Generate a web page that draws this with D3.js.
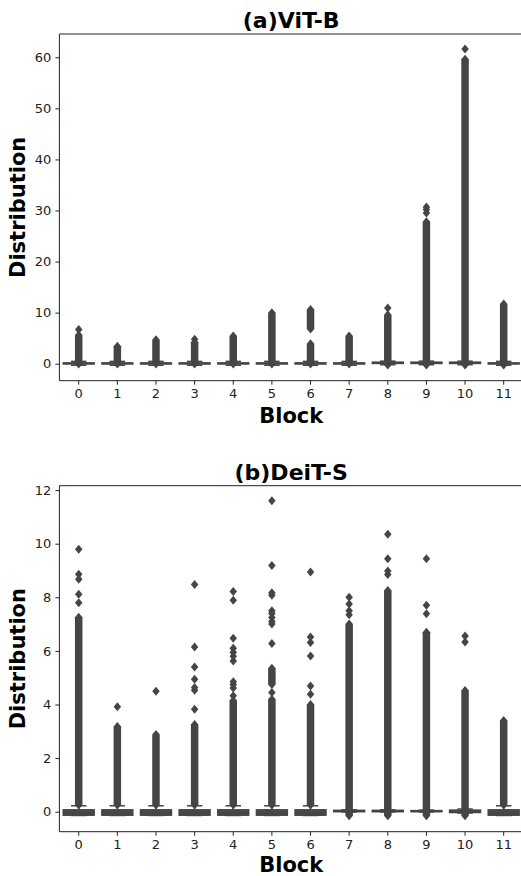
<!DOCTYPE html>
<html><head><meta charset="utf-8">
<script src="https://cdn.jsdelivr.net/npm/d3@7"></script>
<style>body{margin:0;background:#fff} text{font-family:"DejaVu Sans",sans-serif}</style>
</head><body><svg id="c" width="521" height="876"></svg>
<script>
// ---------- data ----------
const blocks = ["0","1","2","3","4","5","6","7","8","9","10","11"];

// (a) ViT-B
const vitYTicks = [0,10,20,30,40,50,60];
const vitQ1       = [-0.05,-0.05,-0.05,-0.05,-0.05,-0.05,-0.05,-0.05,0.05,0.05,0.05,-0.05];
const vitMedian   = [0.05,0.05,0.05,0.05,0.05,0.05,0.05,0.05,0.15,0.15,0.15,0.05];
const vitQ3       = [0.15,0.15,0.15,0.15,0.15,0.15,0.15,0.15,0.3,0.3,0.3,0.15];
const vitWhiskLo  = [-0.3,-0.3,-0.3,-0.3,-0.3,-0.3,-0.3,-0.3,-0.2,-0.2,-0.2,-0.3];
const vitWhiskHi  = [0.45,0.45,0.45,0.45,0.45,0.45,0.45,0.45,0.5,0.5,0.5,0.45];
// dense outlier runs [low, high] per block
const vitRuns = [
  [[-0.05,5.6]], [[-0.05,3.4]], [[-0.05,4.7]], [[-0.05,4.2]], [[-0.05,5.4]], [[-0.05,10.0]],
  [[-0.05,3.9],[6.8,10.6]], [[-0.05,5.4]], [[-0.25,9.6]], [[-0.25,27.8]], [[-0.25,59.6]], [[-0.25,11.7]]
];
// isolated outliers per block
const vitPoints = [
  [6.7], [], [], [4.8], [], [], [], [], [10.9], [29.5,30.2,30.7], [61.6], []
];

// (b) DeiT-S
const deitYTicks = [0,2,4,6,8,10,12];
const deitQ1      = [-0.13,-0.13,-0.13,-0.13,-0.13,-0.13,-0.13,0.0,0.0,0.0,-0.03,-0.13];
const deitMedian  = [-0.05,-0.05,-0.05,-0.05,-0.05,-0.05,-0.05,0.02,0.02,0.02,0.01,-0.05];
const deitQ3      = [0.07,0.07,0.07,0.07,0.07,0.07,0.07,0.05,0.05,0.04,0.06,0.07];
const deitWhiskLo = [-0.14,-0.14,-0.14,-0.14,-0.14,-0.14,-0.14,-0.01,-0.01,-0.01,-0.05,-0.14];
const deitWhiskHi = [0.22,0.22,0.22,0.22,0.22,0.22,0.22,0.07,0.07,0.06,0.1,0.22];
const deitRuns = [
  [[0.25,7.26]], [[0.25,3.18]], [[0.25,2.88]], [[0.25,3.25]], [[0.25,4.15]], [[0.25,4.2],[4.75,5.35]],
  [[0.25,4.0]], [[-0.15,7.0]], [[-0.15,8.25]], [[-0.15,6.7]], [[-0.15,4.52]], [[0.25,3.4]]
];
const deitPoints = [
  [9.79,8.86,8.67,8.11,7.80],
  [3.92],
  [4.49],
  [8.48,6.15,5.40,4.94,4.63,4.53,3.82],
  [8.22,7.89,6.47,6.1,5.95,5.8,5.62,4.85,4.75,4.62,4.33],
  [11.6,9.19,8.17,8.08,7.5,7.4,7.25,7.1,7.0,6.28,4.45],
  [8.94,6.52,6.31,5.81,4.69,4.38],
  [8.0,7.75,7.5,7.35],
  [10.35,9.44,8.98,8.85],
  [9.44,7.70,7.39],
  [6.56,6.33],
  []
];

// ---------- drawing ----------
const svg = d3.select("#c");
const GRAY = "#454545";
const MW = 7.5, MH = 9;

function panel(cfg){
  const {top, bottom, yDomain, yTicks, q1, med, q3, wlo, whi, runs, points, title, labelY} = cfg;
  const left = 59.4, right = 523;
  const x = d3.scaleBand().domain(blocks).range([left, right]).paddingInner(0.2).paddingOuter(0.1);
  const y = d3.scaleLinear().domain(yDomain).range([bottom, top]);
  const g = svg.append("g");
  const bw = x.bandwidth();

  blocks.forEach((b, i) => {
    const cx = x(b) + bw / 2;
    const bg = g.append("g");
    bg.append("line").attr("x1", cx).attr("x2", cx).attr("y1", y(q3[i])).attr("y2", y(whi[i]))
      .attr("stroke", GRAY).attr("stroke-width", 1.5);
    bg.append("line").attr("x1", cx).attr("x2", cx).attr("y1", y(q1[i])).attr("y2", y(wlo[i]))
      .attr("stroke", GRAY).attr("stroke-width", 1.5);
    [whi[i], wlo[i]].forEach(v => {
      bg.append("line").attr("x1", cx - bw / 4).attr("x2", cx + bw / 4).attr("y1", y(v)).attr("y2", y(v))
        .attr("stroke", GRAY).attr("stroke-width", 1.5);
    });
    bg.append("rect").attr("x", x(b)).attr("width", bw)
      .attr("y", y(q3[i])).attr("height", Math.max(0.01, y(q1[i]) - y(q3[i])))
      .attr("fill", "#4a4a4a").attr("stroke", GRAY).attr("stroke-width", 1.5);
    bg.append("line").attr("x1", x(b)).attr("x2", x(b) + bw).attr("y1", y(med[i])).attr("y2", y(med[i]))
      .attr("stroke", GRAY).attr("stroke-width", 1.5);

    runs[i].forEach(([lo, hi]) => {
      const yh = y(hi), yl = y(lo);
      const p = d3.path();
      p.moveTo(cx, yh - MH / 2);
      p.lineTo(cx + MW / 2, yh);
      p.lineTo(cx + MW / 2, yl);
      p.lineTo(cx, yl + MH / 2);
      p.lineTo(cx - MW / 2, yl);
      p.lineTo(cx - MW / 2, yh);
      p.closePath();
      bg.append("path").attr("d", p.toString()).attr("fill", GRAY);
    });
    points[i].forEach(v => {
      bg.append("path")
        .attr("d", `M0,${-MH/2}L${MW/2},0L0,${MH/2}L${-MW/2},0Z`)
        .attr("transform", `translate(${cx},${y(v)})`)
        .attr("fill", GRAY);
    });
  });

  g.append("line").attr("x1", left).attr("x2", left).attr("y1", top).attr("y2", bottom).attr("stroke", "#222").attr("stroke-width", 1);
  g.append("line").attr("x1", left).attr("x2", right).attr("y1", bottom).attr("y2", bottom).attr("stroke", "#222").attr("stroke-width", 1);
  g.append("line").attr("x1", left).attr("x2", right).attr("y1", top).attr("y2", top).attr("stroke", "#222").attr("stroke-width", 1);

  const ya = g.append("g").attr("transform", `translate(${left},0)`)
    .call(d3.axisLeft(y).tickValues(yTicks).tickSize(4).tickPadding(4).tickFormat(d3.format("d")));
  ya.select(".domain").remove();
  ya.selectAll("line").attr("stroke", "#222");
  ya.selectAll("text").attr("font-size", 13).attr("fill", "#222").style("font-family", "DejaVu Sans");

  const xa = g.append("g").attr("transform", `translate(0,${bottom})`)
    .call(d3.axisBottom(x).tickSize(4).tickPadding(4));
  xa.select(".domain").remove();
  xa.selectAll("line").attr("stroke", "#222");
  xa.selectAll("text").attr("font-size", 13).attr("fill", "#222").style("font-family", "DejaVu Sans");

  g.append("text").attr("x", (left + right) / 2).attr("y", top - 6).attr("text-anchor", "middle")
    .attr("font-size", 22).attr("font-weight", "bold").attr("fill", "#000").text(title);
  g.append("text").attr("x", (left + right) / 2).attr("y", labelY).attr("text-anchor", "middle")
    .attr("font-size", 21).attr("font-weight", "bold").attr("fill", "#000").text("Block");
  g.append("text").attr("transform", `translate(25,${(top + bottom) / 2}) rotate(-90)`)
    .attr("text-anchor", "middle").attr("font-size", 21).attr("font-weight", "bold").attr("fill", "#000")
    .text("Distribution");
}

panel({top: 34, bottom: 380.7, yDomain: [-3.33, 64.56], yTicks: vitYTicks,
  q1: vitQ1, med: vitMedian, q3: vitQ3, wlo: vitWhiskLo, whi: vitWhiskHi,
  runs: vitRuns, points: vitPoints, title: "(a)ViT-B", labelY: 423});
panel({top: 485.7, bottom: 831.7, yDomain: [-0.746, 12.164], yTicks: deitYTicks,
  q1: deitQ1, med: deitMedian, q3: deitQ3, wlo: deitWhiskLo, whi: deitWhiskHi,
  runs: deitRuns, points: deitPoints, title: "(b)DeiT-S", labelY: 872});
</script></body></html>
